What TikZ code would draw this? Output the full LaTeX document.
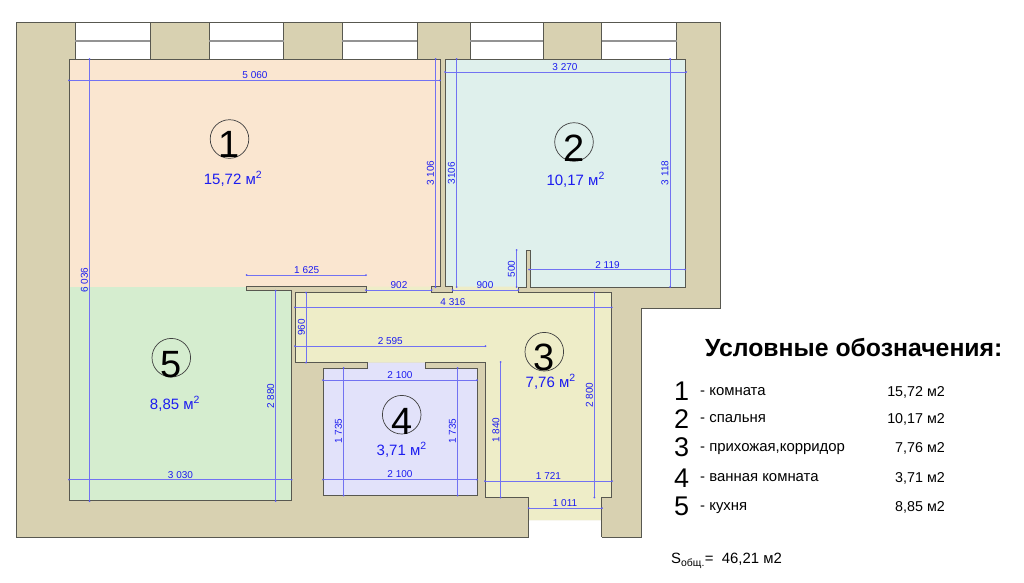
\documentclass[tikz,border=0pt]{standalone}
\usepackage{fontspec}
\setmainfont{Liberation Sans}
\definecolor{wallc}{HTML}{D8D1B1}
\definecolor{strokec}{HTML}{585850}
\definecolor{roomA}{HTML}{FAE6D0}
\definecolor{roomB}{HTML}{DFF0EC}
\definecolor{roomC}{HTML}{EEEDC8}
\definecolor{roomD}{HTML}{E2E2FA}
\definecolor{roomE}{HTML}{D5EDCF}
\definecolor{dimc}{HTML}{7272F2}
\definecolor{txtb}{HTML}{1C1CF0}
\tikzset{
  wallline/.style={draw=strokec,line width=0.9pt,line join=miter},
  winbox/.style={fill=white,draw=strokec,line width=0.9pt},
  winmid/.style={draw=gray!85,line width=1.1pt},
  dimline/.style={draw=dimc,line width=0.6pt},
  dimdot/.style={fill=dimc!80!blue},
  dimtext/.style={text=txtb,font=\fontsize{10}{12}\selectfont,inner sep=0pt,anchor=center},
  areatext/.style={text=txtb,font=\fontsize{15}{18}\selectfont,inner sep=0pt,anchor=base},
  bubble/.style={circle,draw=black!75,line width=0.7pt,minimum size=38.6pt,inner sep=0pt},
  bigdigit/.style={font=\fontsize{38}{40}\selectfont,inner sep=0pt,anchor=base},
  legnum/.style={font=\fontsize{27}{29}\selectfont,inner sep=0pt,anchor=base},
  legtext/.style={font=\fontsize{14.9}{16}\selectfont,inner sep=0pt,anchor=base west},
  legval/.style={font=\fontsize{14.3}{16}\selectfont,inner sep=0pt,anchor=base east},
}
% name, x1, x2, y, label, label x, label y
\newcommand{\dimH}[7]{%
  \draw[dimline] (#2,#4) -- (#3,#4);
  \fill[dimdot] (#2,#4) circle (1) (#3,#4) circle (1);
  \node[dimtext] (#1) at (#6,#7) {#5};}
% name, x, y1, y2, label, label x, label y
\newcommand{\dimV}[7]{%
  \draw[dimline] (#2,#3) -- (#2,#4);
  \fill[dimdot] (#2,#3) circle (1) (#2,#4) circle (1);
  \node[dimtext,rotate=90] (#1) at (#6,#7) {#5};}
\begin{document}
\begin{tikzpicture}[x=1pt,y=-1pt]
\useasboundingbox (0,0) rectangle (1024,582);
\fill[white] (0,0) rectangle (1024,582);
% walls
\fill[wallc] (16,22.5) -- (720.5,22.5) -- (720.5,308) -- (641.5,308) -- (641.5,537) -- (601.7,537) -- (601.7,520) -- (528.7,520) -- (528.7,537) -- (16,537) -- cycle;
% windows
\foreach \a/\b in {75.3/150.3,209/283.7,342/417.3,470/543.3,601.7/676.7}{
  \filldraw[winbox] (\a,22.5) rectangle (\b,59.5);
  \draw[winmid] (\a,41) -- (\b,41);
}
% rooms
\fill[roomA] (69.5,59.5) rectangle (440,287);
\fill[roomE] (69.5,287) -- (246.7,287) -- (246.7,290.7) -- (291.7,290.7) -- (291.7,500.7) -- (69.5,500.7) -- cycle;
\fill[roomB] (445.5,59.5) rectangle (685,287);
\fill[roomC] (295.3,292.5) -- (366,292.5) -- (366,286.7) -- (431.7,286.7) -- (431.7,292.5) -- (452.7,292.5) -- (452.7,286.7) -- (518.3,286.7) -- (518.3,292.5) -- (611.7,292.5) -- (611.7,497.3) -- (601.7,497.3) -- (601.7,520) -- (528.7,520) -- (528.7,497.3) -- (485.3,497.3) -- (485.3,362.7) -- (295.3,362.7) -- cycle;
\fill[roomD] (367.5,362.7) -- (425.7,362.7) -- (425.7,368.3) -- (477,368.3) -- (477,495.3) -- (323.3,495.3) -- (323.3,368.3) -- (367.5,368.3) -- cycle;
\fill[wallc] (526,250) rectangle (530.3,287);
\fill[wallc] (440,59.5) rectangle (445.5,287);
% wall outlines
\draw[wallline] (601.7,537) -- (641.5,537) -- (641.5,308) -- (720.5,308) -- (720.5,22.5) -- (16,22.5) -- (16,537) -- (528.7,537);
\draw[wallline] (291.7,290.7) -- (246.7,290.7) -- (246.7,286.7) -- (366,286.7) -- (366,292.5) -- (295.3,292.5) -- (295.3,362.7) -- (367.5,362.7) -- (367.5,368.3) -- (323.3,368.3) -- (323.3,495.3) -- (477,495.3) -- (477,368.3) -- (425.7,368.3) -- (425.7,362.7) -- (485.3,362.7) -- (485.3,497.3) -- (528.7,497.3) -- (528.7,537);
\draw[wallline] (291.7,290.7) -- (291.7,500.7) -- (69.5,500.7) -- (69.5,59.5) -- (440,59.5) -- (440,286.7) -- (431.7,286.7) -- (431.7,292.5) -- (452.7,292.5) -- (452.7,286.7) -- (445.5,286.7) -- (445.5,59.5) -- (685,59.5) -- (685,287) -- (530.3,287) -- (530.3,250) -- (526,250) -- (526,287) -- (518.3,287) -- (518.3,292.5) -- (611.7,292.5) -- (611.7,497.3) -- (601.7,497.3) -- (601.7,537);
% dimensions
\dimH{dA}{69}{440}{80.3}{5 060}{255}{75.5}
\dimV{dB}{89.5}{59}{501}{6 036}{84.5}{280}
\dimV{dC}{435.5}{59}{287}{3 106}{430.5}{173}
\dimV{dD}{456.7}{59}{287}{3106}{451.5}{173}
\dimH{dE}{445}{686}{72}{3 270}{565}{67.5}
\dimV{dF}{670}{59}{287}{3 118}{665}{173}
\dimV{dG}{516.7}{250}{287}{500}{511.5}{269}
\dimH{dH}{529}{685}{269.5}{2 119}{607.5}{265}
\dimH{dI}{246.7}{366}{275}{1 625}{306.7}{270.5}
\dimH{dJ}{366}{431.7}{290}{902}{399}{285.5}
\dimH{dK}{452.7}{518.3}{290}{900}{485}{285.5}
\dimH{dL}{295}{611.7}{307.3}{4 316}{453}{302}
\dimV{dM}{306}{292.5}{362.7}{960}{301.5}{327.5}
\dimH{dN}{295}{485.5}{346}{2 595}{390.3}{341}
\dimH{dO}{323}{477}{380}{2 100}{400}{375.5}
\dimH{dP}{323}{477}{479.7}{2 100}{400}{474.5}
\dimV{dQ}{343.7}{368}{495.5}{1 735}{338.5}{431}
\dimV{dR}{457.7}{368}{495.5}{1 735}{452.5}{431}
\dimV{dS}{500.7}{362}{497.5}{1 840}{496}{430}
\dimV{dT}{594.3}{292.5}{497.5}{2 800}{589.5}{395}
\dimH{dU}{485}{612}{481}{1 721}{548.5}{476}
\dimH{dV}{528.7}{602}{508}{1 011}{565}{503}
\dimV{dW}{275.7}{290.7}{501}{2 880}{270.7}{396}
\dimH{dX}{69}{291.7}{479.7}{3 030}{180.5}{475}
% room bubbles
\node[bubble] (cA) at (229.5,139) {};
\node[bubble] (cB) at (574,142) {};
\node[bubble] (cC) at (544.3,351.7) {};
\node[bubble] (cD) at (401.7,414.7) {};
\node[bubble] (cE) at (171.3,357.7) {};
\node[bigdigit] (nA) at (229.5,157.5) {1};
\node[bigdigit] (nB) at (574,161.5) {2};
\node[bigdigit] (nC) at (544.3,370.5) {3};
\node[bigdigit] (nD) at (401.7,434) {4};
\node[bigdigit] (nE) at (171.3,377) {5};
\node[areatext] (aA) at (233,184) {15,72 м\textsuperscript{2}};
\node[areatext] (aB) at (575.7,185) {10,17 м\textsuperscript{2}};
\node[areatext] (aC) at (550.7,387) {7,76 м\textsuperscript{2}};
\node[areatext] (aD) at (401.7,455) {3,71 м\textsuperscript{2}};
\node[areatext] (aE) at (175,409) {8,85 м\textsuperscript{2}};
% legend
\node[font=\fontsize{24.8}{26}\selectfont\bfseries,inner sep=0pt,anchor=base west] (title) at (705,356.7) {Условные обозначения:};
\node[legnum] (lA) at (681.7,400.7) {1};
\node[legnum] (lB) at (681.7,428.7) {2};
\node[legnum] (lC) at (681.7,456.7) {3};
\node[legnum] (lD) at (681.7,487.7) {4};
\node[legnum] (lE) at (681.7,515.3) {5};
\node[legtext] (tA) at (700,395) {- комната};
\node[legtext] (tB) at (700,422.3) {- спальня};
\node[legtext] (tC) at (700,451.7) {- прихожая,корридор};
\node[legtext] (tD) at (700,481) {- ванная комната};
\node[legtext] (tE) at (700,510) {- кухня};
\node[legval] (vA) at (945,396) {15,72 м2};
\node[legval] (vB) at (945,423.7) {10,17 м2};
\node[legval] (vC) at (945,452.3) {7,76 м2};
\node[legval] (vD) at (945,482.7) {3,71 м2};
\node[legval] (vE) at (945,511) {8,85 м2};
\node[legtext] (total) at (671,563.3) {S\textsubscript{общ.}=\ \ 46,21 м2};
\end{tikzpicture}
\end{document}
